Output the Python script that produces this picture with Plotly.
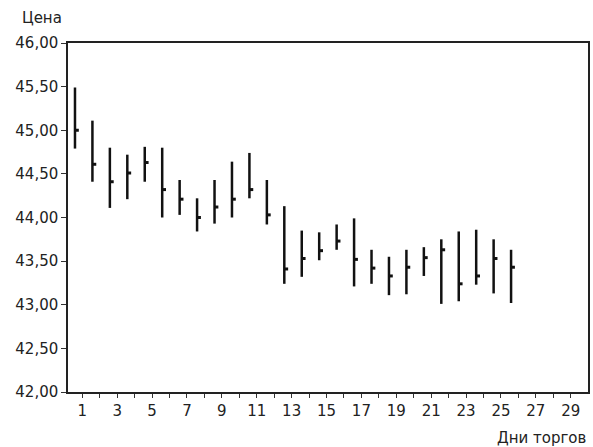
import plotly.graph_objects as go

# Trading days
days = list(range(1, 27))
highs = [45.49, 45.11, 44.80, 44.72, 44.81, 44.80, 44.43, 44.22, 44.43, 44.64,
         44.74, 44.43, 44.13, 43.85, 43.83, 43.92, 43.99, 43.63, 43.55, 43.63,
         43.66, 43.75, 43.84, 43.86, 43.75, 43.63]
lows = [44.79, 44.41, 44.11, 44.21, 44.41, 44.00, 44.03, 43.84, 43.93, 44.00,
        44.22, 43.92, 43.24, 43.32, 43.51, 43.63, 43.21, 43.24, 43.11, 43.12,
        43.33, 43.01, 43.04, 43.23, 43.13, 43.02]
closes = [45.00, 44.61, 44.41, 44.51, 44.63, 44.32, 44.21, 44.00, 44.12, 44.21,
          44.32, 44.03, 43.41, 43.53, 43.62, 43.73, 43.52, 43.42, 43.33, 43.43,
          43.54, 43.63, 43.24, 43.33, 43.53, 43.43]

x_tick_days = list(range(1, 30))
x_tick_text = [str(d) if d % 2 == 1 else "" for d in x_tick_days]
y_ticks = [42.0, 42.5, 43.0, 43.5, 44.0, 44.5, 45.0, 45.5, 46.0]

TICK_SHIFT = 0.42   # label grid offset relative to bars in the original
CLOSE_LEN = 0.22

bar_x, bar_y, cl_x, cl_y = [], [], [], []
for d, h, l, c in zip(days, highs, lows, closes):
    bar_x += [d, d, None]
    bar_y += [l, h, None]
    cl_x += [d, d + CLOSE_LEN, None]
    cl_y += [c, c, None]

ink = "#111111"
fig = go.Figure()
fig.add_trace(go.Scatter(x=bar_x, y=bar_y, mode="lines",
                         line=dict(color=ink, width=2.5), hoverinfo="skip"))
fig.add_trace(go.Scatter(x=cl_x, y=cl_y, mode="lines",
                         line=dict(color=ink, width=3), hoverinfo="skip"))

font_family = "DejaVu Sans, Arial, sans-serif"
fig.update_layout(
    width=593, height=447,
    margin=dict(l=68, r=3, t=43, b=55),
    paper_bgcolor="white", plot_bgcolor="white",
    showlegend=False,
    separators=", ",
    font=dict(family=font_family, size=15, color="#222222"),
    xaxis=dict(range=[0.6, 30.41], tickvals=[d + TICK_SHIFT for d in x_tick_days],
               ticktext=x_tick_text, ticks="outside", ticklen=4, tickwidth=1,
               tickcolor="#333333", showgrid=False, zeroline=False,
               showline=True, linecolor="#222222", linewidth=1.5, mirror=True,
               tickfont=dict(size=15)),
    yaxis=dict(range=[42.0, 46.0], tickvals=y_ticks, tickformat=".2f",
               ticks="outside", ticklen=5, tickwidth=1, tickcolor="#333333",
               showgrid=False, zeroline=False, showline=True,
               linecolor="#222222", linewidth=1.5, mirror=True,
               tickfont=dict(size=15)),
    annotations=[
        dict(text="Цена", xref="paper", yref="paper", x=-0.092, y=1.0,
             xanchor="left", yanchor="bottom", yshift=14, showarrow=False,
             font=dict(size=15)),
        dict(text="Дни торгов", xref="paper", yref="paper", x=1.0, y=0.0,
             xanchor="right", yanchor="top", yshift=-35, xshift=0,
             showarrow=False, font=dict(size=15)),
    ],
)

fig.write_html("out.html", config={"displayModeBar": False},
               post_script="document.body.style.margin='0';document.body.style.overflow='hidden';")
